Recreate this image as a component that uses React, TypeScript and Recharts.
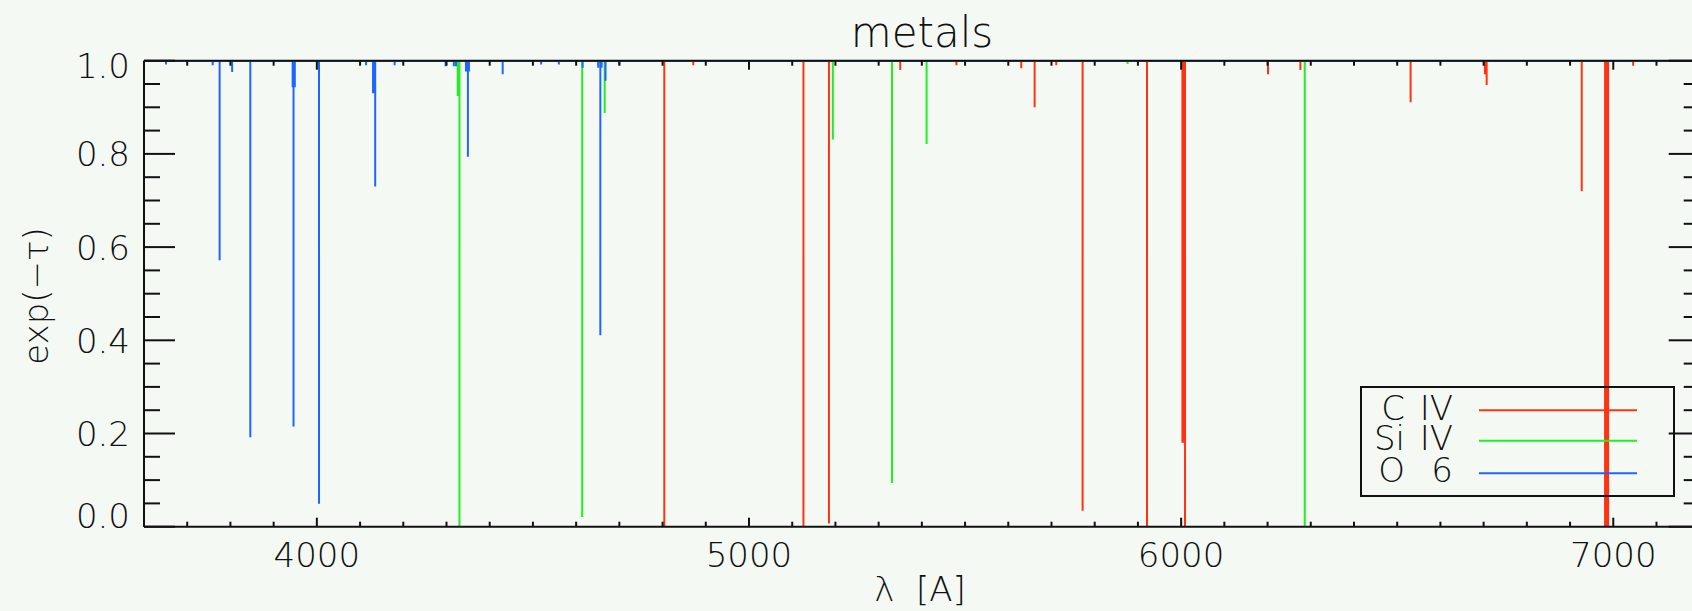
import React from "react";
import { LineChart, Line, XAxis, YAxis, Legend } from "recharts";

// axis ranges and labelled ticks
const waveRange = [3600, 7200];
const xMajorTicks = [4000, 5000, 6000, 7000];
const yMajorTicks = [0, 0.2, 0.4, 0.6, 0.8, 1.0];

// absorption lines: [wavelength (A), exp(-tau) at line centre]
const civLines = [
  [4804, 0.0], [4871, 0.99], [5126, 0.0], [5185, 0.007], [5350, 0.98],
  [5480, 0.99], [5630, 0.984], [5661, 0.9], [5711, 0.99], [5772, 0.034],
  [5921, 0.0], [6003, 0.18], [6006, 0.18], [6009, 0.0], [6201, 0.971],
  [6276, 0.98], [6531, 0.911], [6703, 0.971], [6707, 0.948], [6927, 0.72],
  [6981, 0.0], [6984, 0.0], [6988, 0.0], [7046, 0.989],
];
const siivLines = [
  [4326, 0.924], [4330, 0.0], [4614, 0.021], [4666, 0.888], [5194, 0.831],
  [5331, 0.094], [5411, 0.821], [5876, 0.993], [6286, 0.0],
];
const oviLines = [
  [3651, 0.992], [3759, 0.99], [3775, 0.572], [3804, 0.976], [3846, 0.192],
  [3944, 0.943], [3946, 0.215], [3949, 0.943], [4005, 0.049], [4114, 0.99],
  [4130, 0.93], [4133, 0.93], [4135, 0.73], [4180, 0.99], [4298, 0.988],
  [4317, 0.988], [4322, 0.988], [4345, 0.977], [4349.5, 0.794], [4352, 0.977],
  [4430, 0.971], [4519, 0.992], [4560, 0.992], [4615, 0.985], [4651, 0.985],
  [4656, 0.411], [4659, 0.985], [4668, 0.957], [4700, 0.99],
];

const seriesNames = ["C IV", "Si IV", "O 6"];
const seriesColors = ["#ff3311", "#22ee22", "#1f66ff"];

const FONT = "DejaVu Sans";
const WEIGHT = 200;
const INK = "#111";
const BG = "#f4f9f4";

// continuum at 1 with a spike down at every line
function toSpectrum(lines: number[][]) {
  const pts = [{ wave: waveRange[0], flux: 1 }];
  for (const [w, f] of lines) {
    pts.push({ wave: w, flux: 1 }, { wave: w, flux: f }, { wave: w, flux: 1 });
  }
  pts.push({ wave: waveRange[1], flux: 1 });
  return pts;
}

const xTicks: number[] = [];
for (let w = waveRange[0]; w <= waveRange[1]; w += 100) xTicks.push(w);
const yTicks: number[] = [];
for (let k = 0; k <= 20; k++) yTicks.push(Math.round(k * 5) / 100);

const isMajorY = (v: number) => yMajorTicks.some((m) => Math.abs(m - v) < 1e-6);

const txt = { fontFamily: FONT, fontWeight: WEIGHT, fill: INK } as const;

function BottomTick({ x, y, payload }: any) {
  const major = xMajorTicks.includes(payload.value);
  return (
    <g>
      <line x1={x} x2={x} y1={y} y2={y - (major ? 9 : 5)} stroke={INK} strokeWidth={2} />
      {major && (
        <text x={x} y={y + 40} textAnchor="middle" fontSize={34} {...txt}>
          {payload.value}
        </text>
      )}
    </g>
  );
}

function TopTick({ x, y, payload }: any) {
  const major = xMajorTicks.includes(payload.value);
  return <line x1={x} x2={x} y1={y} y2={y + (major ? 9 : 5)} stroke={INK} strokeWidth={2} />;
}

function LeftTick({ x, y, payload }: any) {
  const v = payload.value;
  const major = isMajorY(v);
  const dy = v === 1 ? 17.6 : v === 0 ? 1.6 : 12.5;
  return (
    <g>
      <line x1={x} x2={x + (major ? 31 : 16)} y1={y} y2={y} stroke={INK} strokeWidth={2} />
      {major && (
        <text x={x - 14} y={y + dy} textAnchor="end" fontSize={34} {...txt}>
          {v.toFixed(1)}
        </text>
      )}
    </g>
  );
}

function RightTick({ x, y, payload }: any) {
  const major = isMajorY(payload.value);
  return <line x1={x} x2={x - (major ? 31 : 16)} y1={y} y2={y} stroke={INK} strokeWidth={2} />;
}

function LegendBox({ payload }: any) {
  const rows = seriesNames
    .map((n) => (payload || []).find((p: any) => p.value === n))
    .filter(Boolean);
  const textY = [34, 64, 95.5];
  const lineY = [24.3, 54.7, 87.3];
  return (
    <svg width={318} height={114} style={{ display: "block", overflow: "visible" }}>
      <rect x={1} y={1} width={313} height={109} fill="none" stroke={INK} strokeWidth={2} />
      <text textAnchor="end" fontSize={34} {...txt}>
        {rows.map((p: any, i: number) => (
          <tspan key={p.value} x={45} y={textY[i]}>{String(p.value).split(" ")[0]}</tspan>
        ))}
      </text>
      <text textAnchor="end" fontSize={34} {...txt}>
        {rows.map((p: any, i: number) => (
          <tspan key={p.value} x={93} y={textY[i]}>{String(p.value).split(" ")[1]}</tspan>
        ))}
      </text>
      {rows.map((p: any, i: number) => (
        <line key={p.value} x1={119} x2={277} y1={lineY[i]} y2={lineY[i]} stroke={p.color} strokeWidth={2} />
      ))}
    </svg>
  );
}

export default function App() {
  const series = [civLines, siivLines, oviLines].map(toSpectrum);
  return (
    <div style={{ position: "absolute", left: 0, top: 0, width: 1692, height: 611, overflow: "hidden", background: BG }}>
      <LineChart width={1701} height={611} margin={{ top: 59.7, right: 0.3, bottom: 83.3, left: 143 }}>
        <XAxis xAxisId="b" type="number" dataKey="wave" domain={waveRange} allowDataOverflow
          ticks={xTicks} interval={0} height={1} tickSize={0} tickMargin={0} tickLine={false}
          axisLine={{ stroke: INK, strokeWidth: 2 }} tick={<BottomTick />} />
        <XAxis xAxisId="t" orientation="top" type="number" dataKey="wave" domain={waveRange} allowDataOverflow
          ticks={xTicks} interval={0} height={1} tickSize={0} tickMargin={0} tickLine={false}
          axisLine={{ stroke: INK, strokeWidth: 2 }} tick={<TopTick />} />
        <YAxis yAxisId="l" type="number" domain={[0, 1]} allowDataOverflow ticks={yTicks} interval={0}
          width={1} tickSize={0} tickMargin={0} tickLine={false}
          axisLine={{ stroke: INK, strokeWidth: 2 }} tick={<LeftTick />} />
        <YAxis yAxisId="r" orientation="right" type="number" domain={[0, 1]} allowDataOverflow ticks={yTicks}
          interval={0} width={1} tickSize={0} tickMargin={0} tickLine={false}
          axisLine={{ stroke: INK, strokeWidth: 2 }} tick={<RightTick />} />
        {series.map((data, i) => (
          <Line key={seriesNames[i]} name={seriesNames[i]} data={data} dataKey="flux"
            xAxisId={i === 2 ? "t" : "b"} yAxisId={i === 2 ? "r" : "l"}
            type="linear" stroke={seriesColors[i]} strokeWidth={2} dot={false}
            activeDot={false} isAnimationActive={false} />
        ))}
        <Legend layout="horizontal" verticalAlign="middle" align="center" content={<LegendBox />}
          wrapperStyle={{ left: 1360, top: 386, width: 318, height: 114 }} />
        <text x={922} y={46.7} textAnchor="middle" fontSize={42} {...txt}>metals</text>
        <text x={920} y={601} textAnchor="middle" fontSize={34} {...txt}
          style={{ whiteSpace: "pre" }}>{"λ  [A]"}</text>
        <text x={48} y={296} transform="rotate(-90 48 296)" textAnchor="middle" fontSize={34}
          {...txt}>exp(−τ)</text>
      </LineChart>
    </div>
  );
}
